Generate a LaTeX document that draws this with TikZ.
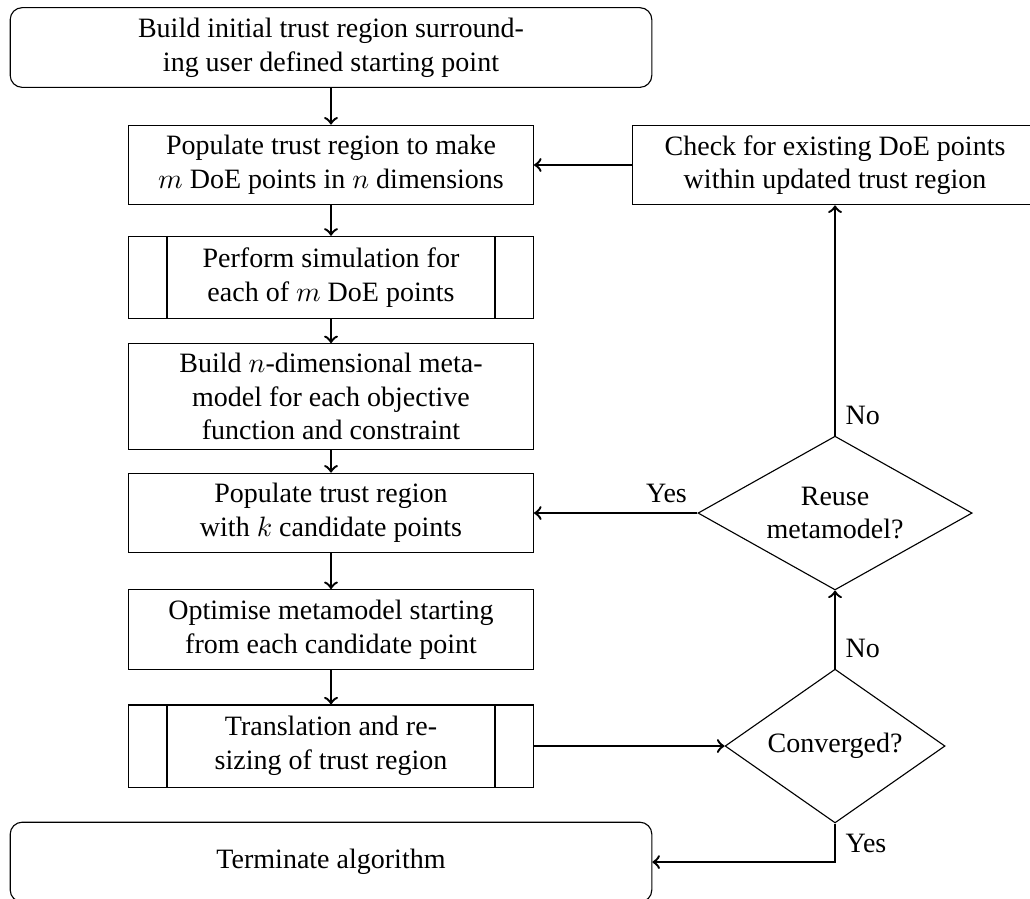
\documentclass[tikz,border=0pt]{standalone}
\usepackage{fontspec}
\setmainfont{LiberationSerif}[Extension=.ttf, UprightFont=*-Regular, BoldFont=*-Bold, ItalicFont=*-Italic, BoldItalicFont=*-BoldItalic]
\usetikzlibrary{shapes.geometric}

\tikzset{
  block/.style={draw, rectangle, align=center, minimum width=5.08cm, minimum height=1cm},
  terminal/.style={draw, rectangle, rounded corners=1.5mm, align=center, minimum width=8.05cm, minimum height=1cm},
  decision/.style={draw, diamond, aspect=2, inner sep=0pt, align=center, minimum height=1.93cm},
  flow/.style={->, line width = .3mm},
}

\begin{document}
\begin{tikzpicture}
      \useasboundingbox (0, 0) rectangle (12.923, -11.267);
        %%main column
        \node[terminal] (start) at (4.153, -0.596) {Build initial trust region surround-\\ing user defined starting point};
        \node[block] (populate) at (4.153, -2.07) {Populate trust region to make\\$m$ DoE points in $n$ dimensions};
        \node[block, minimum height=1.03cm] (simulate) at (4.153, -3.48) {Perform simulation for\\each of $m$ DoE points};
          \draw([xshift=.49cm]simulate.north west) to ([xshift=.49cm]simulate.south west);
          \draw([xshift=-.49cm]simulate.north east) to ([xshift=-.49cm]simulate.south east);
        \node[block] (metamodel) at (4.153, -4.975) {Build $n$-dimensional meta-\\model for each objective\\function and constraint};
        \node[block] (candidates) at (4.153, -6.437) {Populate trust region\\with $k$ candidate points};
        \node[block] (optimise) at (4.153, -7.898) {Optimise metamodel starting\\from each candidate point};
        \node[block, minimum height=1.03cm] (translate) at (4.153, -9.36) {Translation and re-\\sizing of trust region};
          \draw([xshift=.49cm]translate.north west) to ([xshift=.49cm]translate.south west);
          \draw([xshift=-.49cm]translate.north east) to ([xshift=-.49cm]translate.south east);
        \node[terminal] (terminate) at (4.153, -10.816) {Terminate algorithm};

        %%right column
        \node[block] (check) at (10.477, -2.07) {Check for existing DoE points\\within updated trust region};
        \node[decision, minimum width=3.44cm] (reuse) at (10.477, -6.437) {Reuse\\metamodel?};
        \node[decision, minimum width=2.76cm] (converged) at (10.477, -9.36) {Converged?};

        %%connectors
      \draw[flow](start) to (populate);
      \draw[flow](populate) to (simulate);
      \draw[flow](simulate) to (metamodel);
      \draw[flow](metamodel) to (candidates);
      \draw[flow](candidates) to (optimise);
      \draw[flow](optimise) to (translate);
      \draw[flow](translate) to (converged);
      \draw[flow](converged.north) to node[pos=0, above right]{No} (reuse.south);
      \draw[flow](reuse.north) to node[pos=0, above right]{No} (check.south);
      \draw[flow](check) to (populate);
      \draw[flow](reuse.west) to node[pos=0, above left]{Yes} (candidates.east);
      \draw[flow](converged.south) |- node[pos=0, below right]{Yes} (terminate.east);

    \end{tikzpicture}
\end{document}
